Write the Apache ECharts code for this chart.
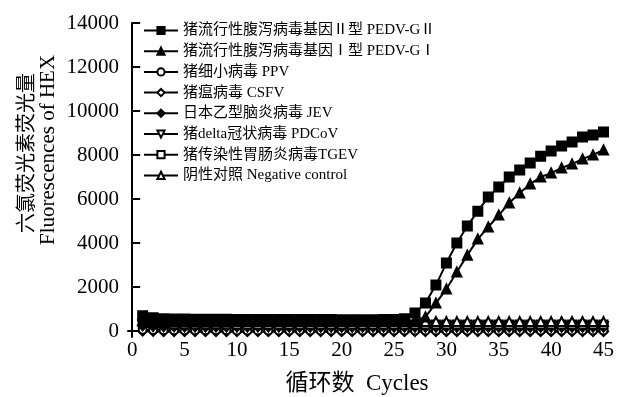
<!DOCTYPE html>
<html>
<head>
<meta charset="utf-8">
<script src="https://cdn.jsdelivr.net/npm/echarts@6/dist/echarts.min.js"></script>
<style>
html,body{margin:0;padding:0;background:#fff;}
#c{width:617px;height:397px;}
</style>
</head>
<body>
<div id="c"></div>
<script>
var cycles = [1,2,3,4,5,6,7,8,9,10,11,12,13,14,15,16,17,18,19,20,21,22,23,24,25,26,27,28,29,30,31,32,33,34,35,36,37,38,39,40,41,42,43,44,45];
var xTicks = [0,5,10,15,20,25,30,35,40,45];
var yTicks = [0,2000,4000,6000,8000,10000,12000,14000];

var pedvG2 = [700,600,560,550,545,540,540,535,535,530,530,530,525,525,525,520,520,520,520,515,515,515,515,520,530,560,820,1270,2090,3090,4000,4770,5450,6090,6545,7000,7320,7640,7950,8180,8410,8590,8820,8910,9045];
var pedvG1 = [480,480,475,475,470,470,470,470,465,465,465,465,465,460,460,460,460,460,460,460,460,460,460,460,465,470,480,640,1270,1910,2680,3450,4180,4730,5270,5820,6270,6680,7000,7180,7410,7590,7820,8000,8230];
var ppv = [60,50,40,40,40,35,35,35,35,30,30,30,30,30,30,30,30,30,30,30,30,30,30,30,30,30,30,30,30,30,30,30,30,30,30,30,30,30,30,30,30,30,30,30,30];
var csfv = [0,-10,-20,-20,-20,-20,-25,-25,-25,-25,-25,-25,-25,-25,-25,-25,-25,-25,-25,-25,-25,-25,-25,-25,-25,-25,-25,-25,-25,-25,-25,-25,-25,-25,-25,-25,-25,-25,-25,-25,-25,-25,-25,-25,-25];
var jev = [200,170,160,155,150,150,150,150,145,145,145,145,145,145,140,140,140,140,140,140,140,140,140,140,140,140,140,140,140,140,140,140,140,140,140,140,140,140,140,140,140,140,140,140,140];
var pdcov = [260,230,220,215,210,210,205,205,205,200,200,200,200,200,200,200,200,200,200,200,200,200,200,200,200,200,200,200,200,200,200,200,200,200,200,200,200,200,200,200,200,200,200,200,200];
var tgev = [380,330,320,315,310,310,305,305,305,300,300,300,300,300,300,300,300,300,300,300,300,300,300,300,300,300,300,300,300,300,300,300,300,300,300,300,300,300,300,300,300,300,300,300,300];
var negCtrl = [470,440,435,430,430,430,430,430,430,430,430,430,430,430,430,430,430,430,430,430,430,430,430,430,430,430,430,430,430,430,430,430,430,430,430,430,430,430,430,430,430,430,430,430,430];

var names = [
  '猪流行性腹泻病毒基因Ⅱ型 PEDV-GⅡ',
  '猪流行性腹泻病毒基因Ⅰ型 PEDV-GⅠ',
  '猪细小病毒 PPV',
  '猪瘟病毒 CSFV',
  '日本乙型脑炎病毒 JEV',
  '猪delta冠状病毒 PDCoV',
  '猪传染性胃肠炎病毒TGEV',
  '阴性对照 Negative control'
];

var FONT = '"Liberation Serif", "Noto Sans CJK SC", serif';

function pairs(vals){ return cycles.map(function(c,i){ return [c, vals[i]]; }); }

function mk(name, vals, symbol, size, fill, rotate, z){
  return {
    name: name, type: 'line', data: pairs(vals),
    symbol: symbol, symbolSize: size, symbolRotate: rotate || 0,
    showSymbol: true, z: z,
    lineStyle: {color: '#000', width: 2},
    itemStyle: {color: fill, borderColor: '#000', borderWidth: 2},
    emphasis: {disabled: true},
    animation: false
  };
}

var chart = echarts.init(document.getElementById('c'), null, {renderer: 'canvas'});
chart.setOption({
  animation: false,
  backgroundColor: '#fff',
  grid: {left: 128, right: 6, top: 23, bottom: 60, containLabel: false},
  legend: {
    left: 143, top: 23, orient: 'vertical', padding: 0,
    itemWidth: 34, itemHeight: 9, itemGap: 5.7,
    data: names,
    textStyle: {fontFamily: FONT, fontSize: 15, color: '#000', lineHeight: 15}
  },
  xAxis: {
    type: 'value', min: -0.4, max: 45.4,
    axisLine: {show: true, lineStyle: {color: '#000', width: 2}},
    axisTick: {show: true, inside: true, length: 5, customValues: xTicks, lineStyle: {color: '#000', width: 2}},
    axisLabel: {customValues: xTicks, fontFamily: FONT, fontSize: 21, color: '#000', margin: 3,
                formatter: function(v){ return String(v); }},
    splitLine: {show: false}
  },
  yAxis: {
    type: 'value', min: -270, max: 14000,
    axisLine: {show: true, lineStyle: {color: '#000', width: 2}},
    axisTick: {show: true, inside: true, length: 8, customValues: yTicks, lineStyle: {color: '#000', width: 2}},
    axisLabel: {customValues: yTicks, fontFamily: FONT, fontSize: 21, color: '#000', margin: 9,
                formatter: function(v){ return String(v); }},
    splitLine: {show: false}
  },
  graphic: [
    {type: 'text', x: 28, y: 153, rotation: Math.PI/2,
     style: {text: '六氯荧光素荧光量', font: '20px ' + FONT, fill: '#000', align: 'center', verticalAlign: 'middle'}},
    {type: 'text', x: 48, y: 150, rotation: Math.PI/2,
     style: {text: 'Fluorescences of HEX', font: '21px ' + FONT, fill: '#000', align: 'center', verticalAlign: 'middle'}},
    {type: 'text', x: 357, y: 384,
     style: {text: '循环数  Cycles', font: '23px ' + FONT, fill: '#000', align: 'center', verticalAlign: 'middle'}}
  ],
  series: [
    mk(names[0], pedvG2, 'rect', 9, '#000', 0, 10),
    mk(names[1], pedvG1, 'triangle', 9, '#000', 0, 9),
    mk(names[2], ppv, 'circle', 8, '#fff', 0, 3),
    mk(names[3], csfv, 'diamond', 9, '#fff', 0, 2),
    mk(names[4], jev, 'diamond', 7, '#000', 0, 4),
    mk(names[5], pdcov, 'triangle', 9, '#fff', 180, 5),
    mk(names[6], tgev, 'rect', 8, '#fff', 0, 6),
    mk(names[7], negCtrl, 'triangle', 9, '#fff', 0, 7)
  ]
});
</script>
</body>
</html>
